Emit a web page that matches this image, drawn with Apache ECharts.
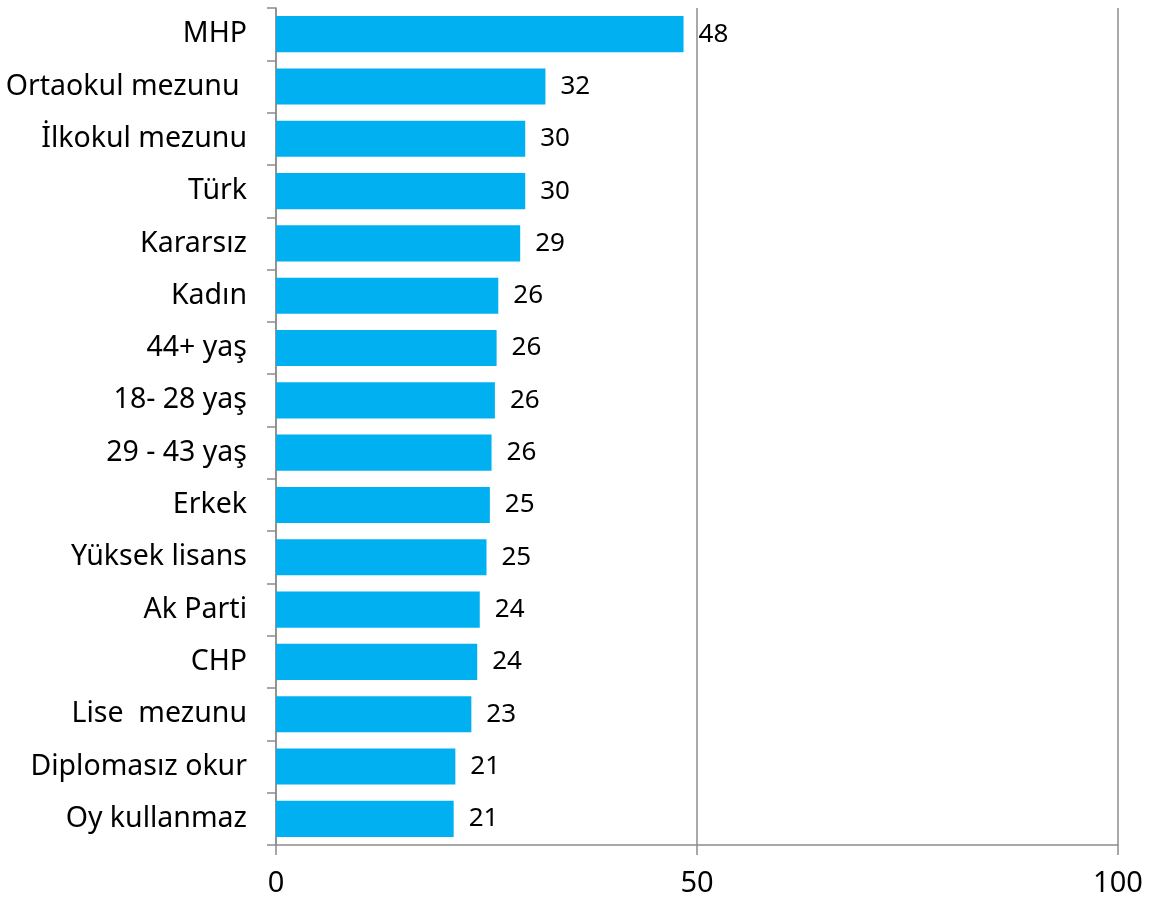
<!DOCTYPE html>
<html>
<head>
<meta charset="utf-8">
<script src="https://cdn.jsdelivr.net/npm/echarts@6/dist/echarts.min.js"></script>
<style>
html,body{margin:0;padding:0;background:#fff;}
#chart{width:1161px;height:901px;}
</style>
</head>
<body>
<div id="chart"></div>
<script>
const categories = ["MHP","Ortaokul mezunu ","İlkokul mezunu","Türk","Kararsız","Kadın","44+ yaş","18- 28 yaş","29 - 43 yaş","Erkek","Yüksek lisans","Ak Parti","CHP","Lise  mezunu","Diplomasız okur","Oy kullanmaz"];
const values = [48.4,32.0,29.6,29.6,29.0,26.4,26.2,26.0,25.6,25.4,25.0,24.2,23.9,23.2,21.3,21.1];
const xTicks = [0,50,100];

const chart = echarts.init(document.getElementById('chart'));
chart.setOption({
  animation:false,
  backgroundColor:'#ffffff',
  grid:{left:276,right:43,top:8,bottom:56,containLabel:false},
  xAxis:{
    type:'value', min:xTicks[0], max:xTicks[xTicks.length-1], interval:xTicks[1]-xTicks[0],
    axisLine:{show:true,lineStyle:{color:'#8c8c8c',width:1.5}},
    axisTick:{show:true,length:10,lineStyle:{color:'#8c8c8c',width:1.5}},
    splitLine:{show:true,lineStyle:{color:'#8c8c8c',width:1.5}},
    axisLabel:{color:'#000',fontSize:29,fontFamily:'Noto Sans',margin:24}
  },
  yAxis:{
    type:'category', data:categories, inverse:true,
    axisLine:{show:true,lineStyle:{color:'#8c8c8c',width:1.5}},
    axisTick:{show:true,length:9,lineStyle:{color:'#8c8c8c',width:1.5}},
    axisLabel:{color:'#000',fontSize:28.5,fontFamily:'Noto Sans',margin:29}
  },
  series:[{
    type:'bar', data:values, barCategoryGap:'31%',
    itemStyle:{color:'#00B0F0'},
    label:{show:true,position:'right',distance:15,color:'#000',fontSize:26,fontFamily:'Noto Sans',
      formatter:p=>Math.round(p.value)}
  }]
});
</script>
</body>
</html>
